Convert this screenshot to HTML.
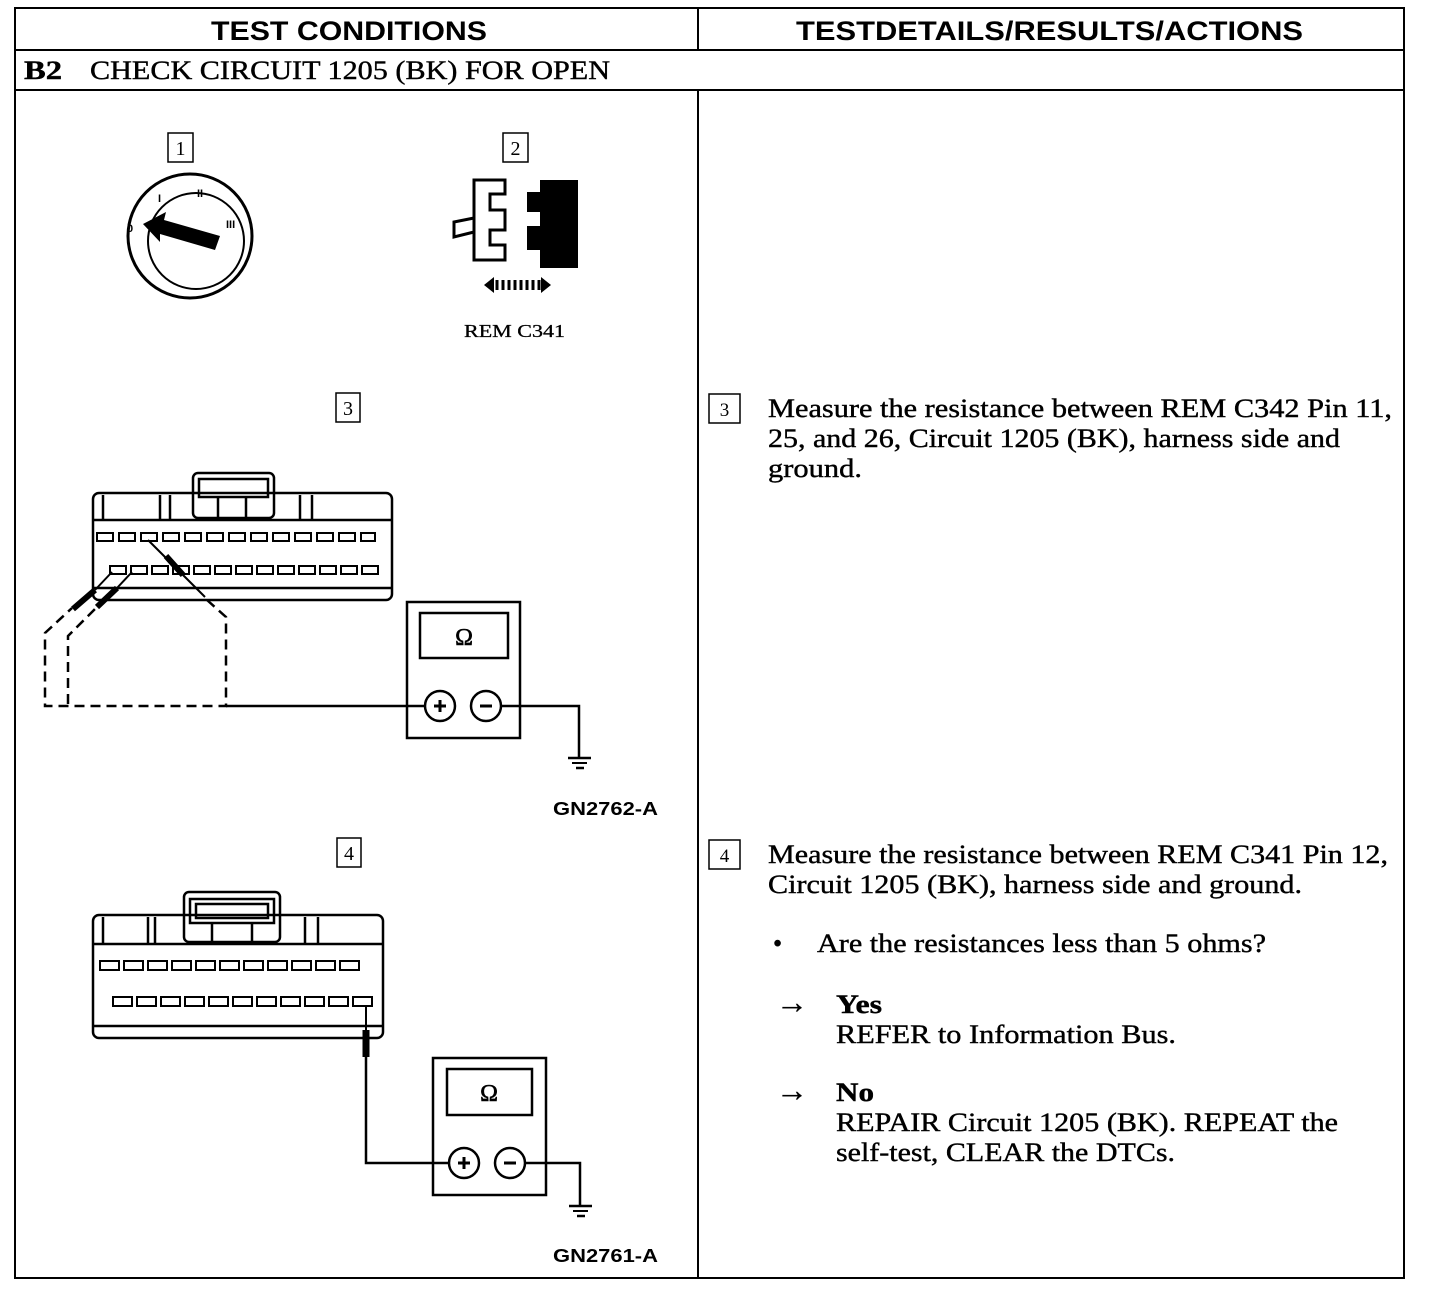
<!DOCTYPE html>
<html><head><meta charset="utf-8"><style>html,body{margin:0;padding:0;background:#fff}svg{display:block}</style></head><body>
<svg width="1440" height="1290" viewBox="0 0 1440 1290" xmlns="http://www.w3.org/2000/svg">
<g fill="none" stroke="#000" stroke-width="2">
<rect x="15" y="8" width="1389" height="1270"/>
<line x1="15" y1="50" x2="1404" y2="50"/>
<line x1="15" y1="90" x2="1404" y2="90"/>
<line x1="698" y1="8" x2="698" y2="50"/>
<line x1="698" y1="90" x2="698" y2="1278"/>
</g>
<g font-family="Liberation Sans, sans-serif" font-weight="bold" font-size="27">
<text x="211" y="40" textLength="276" lengthAdjust="spacingAndGlyphs">TEST CONDITIONS</text>
<text x="796" y="40" textLength="507" lengthAdjust="spacingAndGlyphs">TESTDETAILS/RESULTS/ACTIONS</text>
</g>
<g font-family="Liberation Serif, serif" font-size="26" stroke="#000" stroke-width="0.4">
<text x="24" y="79" font-weight="bold" textLength="38" lengthAdjust="spacingAndGlyphs">B2</text>
<text x="90" y="79" textLength="520" lengthAdjust="spacingAndGlyphs">CHECK CIRCUIT 1205 (BK) FOR OPEN</text>
</g>
<!-- step boxes -->
<g fill="none" stroke="#000" stroke-width="1.5">
<rect x="168" y="133" width="25" height="29"/>
<rect x="503" y="133" width="25" height="29"/>
<rect x="336" y="393" width="24" height="29"/>
<rect x="337" y="838" width="24" height="29"/>
<rect x="709" y="394" width="31" height="29"/>
<rect x="709" y="840" width="31" height="29"/>
</g>
<g font-family="Liberation Serif, serif" font-size="20" text-anchor="middle">
<text x="180.5" y="155">1</text><text x="515.5" y="155">2</text>
<text x="348" y="415">3</text><text x="349" y="860">4</text>
<text x="724.5" y="416" font-size="19">3</text><text x="724.5" y="862" font-size="19">4</text>
</g>
<!-- ignition -->
<circle cx="190" cy="236" r="62" fill="none" stroke="#000" stroke-width="3"/>
<circle cx="196" cy="241" r="48" fill="none" stroke="#000" stroke-width="2"/>
<polygon points="143,224 166,212 164,220 220,236 215,250 160,234 160,242" fill="#000"/>
<g font-family="Liberation Sans,sans-serif" font-size="11" font-weight="bold"><text x="158" y="202">I</text><text x="197" y="197">II</text><text x="226" y="228">III</text><text x="127" y="232">0</text></g>
<!-- connector 2 -->
<path d="M474,180 H505 V194 H490 V210 H505 V230 H490 V245 H505 V260 H474 Z M474,218 L454,222 V237 L474,232" fill="none" stroke="#000" stroke-width="3"/>
<path d="M540,180 H578 V268 H540 V250 H527 V226 H540 V212 H527 V192 H540 Z" fill="#000"/>
<polygon points="484,285 494,277 494,293" fill="#000"/><polygon points="551,285 541,277 541,293" fill="#000"/>
<g stroke="#000" stroke-width="3"><line x1="497" y1="280" x2="497" y2="290"/><line x1="503" y1="280" x2="503" y2="290"/><line x1="509" y1="280" x2="509" y2="290"/><line x1="515" y1="280" x2="515" y2="290"/><line x1="521" y1="280" x2="521" y2="290"/><line x1="527" y1="280" x2="527" y2="290"/><line x1="533" y1="280" x2="533" y2="290"/><line x1="539" y1="280" x2="539" y2="290"/></g>
<text x="464" y="337" font-family="Liberation Serif,serif" font-size="18" stroke="#000" stroke-width="0.3" textLength="101" lengthAdjust="spacingAndGlyphs">REM C341</text>
<!-- diagram 3 connector -->
<g fill="none" stroke="#000" stroke-width="2.5">
<rect x="93" y="493" width="299" height="107" rx="6"/>
<rect x="193" y="473" width="81" height="45" rx="5"/>
<rect x="199" y="479" width="69" height="18"/>
<line x1="93" y1="520" x2="392" y2="520"/>
<line x1="93" y1="588" x2="392" y2="588"/>
<line x1="103" y1="495" x2="103" y2="520"/><line x1="160" y1="495" x2="160" y2="520"/><line x1="170" y1="495" x2="170" y2="520"/>
<line x1="300" y1="495" x2="300" y2="520"/><line x1="312" y1="495" x2="312" y2="520"/>
<line x1="218" y1="497" x2="218" y2="518"/><line x1="246" y1="497" x2="246" y2="518"/>
</g>
<g fill="none" stroke="#000" stroke-width="2">
<rect x="97" y="533" width="16" height="8"/><rect x="119" y="533" width="16" height="8"/><rect x="141" y="533" width="16" height="8"/><rect x="163" y="533" width="16" height="8"/><rect x="185" y="533" width="16" height="8"/><rect x="207" y="533" width="16" height="8"/><rect x="229" y="533" width="16" height="8"/><rect x="251" y="533" width="16" height="8"/><rect x="273" y="533" width="16" height="8"/><rect x="295" y="533" width="16" height="8"/><rect x="317" y="533" width="16" height="8"/><rect x="339" y="533" width="16" height="8"/><rect x="361" y="533" width="14" height="8"/>
<rect x="110" y="566" width="16" height="8"/><rect x="131" y="566" width="16" height="8"/><rect x="152" y="566" width="16" height="8"/><rect x="173" y="566" width="16" height="8"/><rect x="194" y="566" width="16" height="8"/><rect x="215" y="566" width="16" height="8"/><rect x="236" y="566" width="16" height="8"/><rect x="257" y="566" width="16" height="8"/><rect x="278" y="566" width="16" height="8"/><rect x="299" y="566" width="16" height="8"/><rect x="320" y="566" width="16" height="8"/><rect x="341" y="566" width="16" height="8"/><rect x="362" y="566" width="16" height="8"/>
</g>
<!-- probes d3 -->
<g stroke="#000" fill="none">
<line x1="148" y1="540" x2="205" y2="597" stroke-width="2"/>
<line x1="166" y1="556" x2="183" y2="575" stroke-width="6"/>
<line x1="112" y1="572" x2="95" y2="590" stroke-width="2"/>
<line x1="95" y1="590" x2="73" y2="609" stroke-width="6"/>
<line x1="132" y1="572" x2="117" y2="588" stroke-width="2"/>
<line x1="117" y1="588" x2="97" y2="607" stroke-width="6"/>
<g stroke-width="2.5" stroke-dasharray="10,6">
<polyline points="207,600 226,617 226,706 45,706 45,633 72,608"/>
<polyline points="68,704 68,636 97,607"/>
</g>
<line x1="226" y1="706" x2="426" y2="706" stroke-width="2.5"/>
<polyline points="500,706 579,706 579,757" stroke-width="2.5"/>
<line x1="568" y1="758" x2="591" y2="758" stroke-width="2.5"/>
<line x1="572" y1="763" x2="587" y2="763" stroke-width="2"/>
<line x1="576" y1="768" x2="584" y2="768" stroke-width="2.5"/>
<rect x="407" y="602" width="113" height="136" stroke-width="2.5"/>
<rect x="420" y="613" width="88" height="45" stroke-width="2.5"/>
<circle cx="440" cy="706" r="15" stroke-width="2.5" fill="#fff"/>
<circle cx="486" cy="706" r="15" stroke-width="2.5" fill="#fff"/>
<path d="M434,706 h12 M440,700 v12 M480,706 h12" stroke-width="3"/>
</g>
<text x="464" y="645" text-anchor="middle" font-family="Liberation Serif,serif" font-size="24" stroke="#000" stroke-width="0.6">Ω</text>
<text x="553" y="815" font-family="Liberation Sans,sans-serif" font-weight="bold" font-size="18" textLength="105" lengthAdjust="spacingAndGlyphs">GN2762-A</text>
<!-- diagram 4 -->
<g fill="none" stroke="#000" stroke-width="2.5">
<rect x="93" y="915" width="290" height="123" rx="6"/>
<rect x="184" y="892" width="96" height="50" rx="5"/>
<rect x="190" y="899" width="84" height="24"/>
<rect x="196" y="904" width="72" height="14"/>
<line x1="93" y1="944" x2="383" y2="944"/>
<line x1="93" y1="1026" x2="383" y2="1026"/>
<line x1="103" y1="917" x2="103" y2="944"/><line x1="148" y1="917" x2="148" y2="944"/><line x1="155" y1="917" x2="155" y2="944"/>
<line x1="305" y1="917" x2="305" y2="944"/><line x1="318" y1="917" x2="318" y2="944"/>
<line x1="212" y1="923" x2="212" y2="942"/><line x1="252" y1="923" x2="252" y2="942"/>
</g>
<g fill="none" stroke="#000" stroke-width="2">
<rect x="100" y="961" width="19" height="9"/><rect x="124" y="961" width="19" height="9"/><rect x="148" y="961" width="19" height="9"/><rect x="172" y="961" width="19" height="9"/><rect x="196" y="961" width="19" height="9"/><rect x="220" y="961" width="19" height="9"/><rect x="244" y="961" width="19" height="9"/><rect x="268" y="961" width="19" height="9"/><rect x="292" y="961" width="19" height="9"/><rect x="316" y="961" width="19" height="9"/><rect x="340" y="961" width="19" height="9"/>
<rect x="113" y="997" width="19" height="9"/><rect x="137" y="997" width="19" height="9"/><rect x="161" y="997" width="19" height="9"/><rect x="185" y="997" width="19" height="9"/><rect x="209" y="997" width="19" height="9"/><rect x="233" y="997" width="19" height="9"/><rect x="257" y="997" width="19" height="9"/><rect x="281" y="997" width="19" height="9"/><rect x="305" y="997" width="19" height="9"/><rect x="329" y="997" width="19" height="9"/><rect x="353" y="997" width="19" height="9"/>
</g>
<g stroke="#000" fill="none">
<line x1="366" y1="1006" x2="366" y2="1030" stroke-width="2"/>
<line x1="366" y1="1030" x2="366" y2="1057" stroke-width="7"/>
<polyline points="366,1057 366,1163 449,1163" stroke-width="2.5"/>
<polyline points="526,1163 580,1163 580,1205" stroke-width="2.5"/>
<line x1="569" y1="1206" x2="592" y2="1206" stroke-width="2.5"/>
<line x1="573" y1="1211" x2="588" y2="1211" stroke-width="2"/>
<line x1="577" y1="1216" x2="585" y2="1216" stroke-width="2.5"/>
<rect x="433" y="1058" width="113" height="137" stroke-width="2.5"/>
<rect x="447" y="1069" width="85" height="46" stroke-width="2.5"/>
<circle cx="464" cy="1163" r="15" stroke-width="2.5" fill="#fff"/>
<circle cx="510" cy="1163" r="15" stroke-width="2.5" fill="#fff"/>
<path d="M458,1163 h12 M464,1157 v12 M504,1163 h12" stroke-width="3"/>
</g>
<text x="489" y="1101" text-anchor="middle" font-family="Liberation Serif,serif" font-size="24" stroke="#000" stroke-width="0.6">Ω</text>
<text x="553" y="1262" font-family="Liberation Sans,sans-serif" font-weight="bold" font-size="18" textLength="105" lengthAdjust="spacingAndGlyphs">GN2761-A</text>
<!-- right text -->
<g font-family="Liberation Serif, serif" font-size="26" stroke="#000" stroke-width="0.4">
<text x="768" y="417" textLength="624" lengthAdjust="spacingAndGlyphs">Measure the resistance between REM C342 Pin 11,</text>
<text x="768" y="447" textLength="572" lengthAdjust="spacingAndGlyphs">25, and 26, Circuit 1205 (BK), harness side and</text>
<text x="768" y="477" textLength="94" lengthAdjust="spacingAndGlyphs">ground.</text>
<text x="768" y="863" textLength="620" lengthAdjust="spacingAndGlyphs">Measure the resistance between REM C341 Pin 12,</text>
<text x="768" y="893" textLength="534" lengthAdjust="spacingAndGlyphs">Circuit 1205 (BK), harness side and ground.</text>
<text x="773" y="952">•</text>
<text x="817" y="952" textLength="449" lengthAdjust="spacingAndGlyphs">Are the resistances less than 5 ohms?</text>
<text x="776" y="1013" font-size="32">→</text>
<text x="836" y="1013" font-weight="bold" textLength="46" lengthAdjust="spacingAndGlyphs">Yes</text>
<text x="836" y="1043" textLength="340" lengthAdjust="spacingAndGlyphs">REFER to Information Bus.</text>
<text x="776" y="1101" font-size="32">→</text>
<text x="836" y="1101" font-weight="bold" textLength="38" lengthAdjust="spacingAndGlyphs">No</text>
<text x="836" y="1131" textLength="502" lengthAdjust="spacingAndGlyphs">REPAIR Circuit 1205 (BK). REPEAT the</text>
<text x="836" y="1161" textLength="339" lengthAdjust="spacingAndGlyphs">self-test, CLEAR the DTCs.</text>
</g>
</svg>
</body></html>
